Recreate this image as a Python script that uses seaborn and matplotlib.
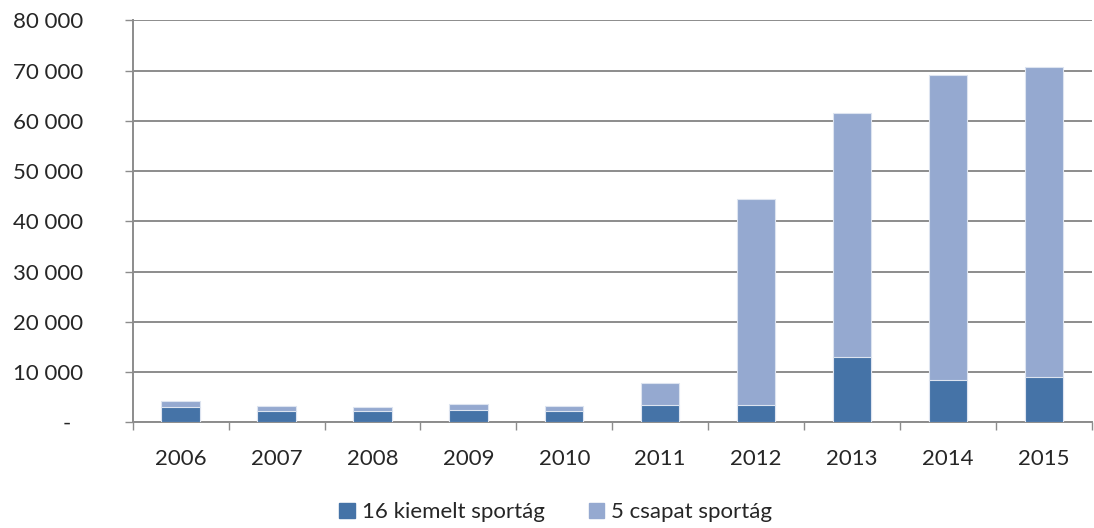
import numpy as np
import pandas as pd
import seaborn as sns
import matplotlib.pyplot as plt
from matplotlib.patches import Patch

years = ["2006", "2007", "2008", "2009", "2010", "2011", "2012", "2013", "2014", "2015"]
kiemelt = [3000, 2250, 2250, 2500, 2250, 3500, 3500, 13000, 8400, 9100]
csapat = [1300, 1050, 800, 1200, 1050, 4300, 40900, 48550, 60700, 61600]
series_names = ["16 kiemelt sportág", "5 csapat sportág"]
dark = "#4573a7"
light = "#95a9d0"
grid_col = "#8c8c8c"

df = pd.DataFrame({"year": years, "kiemelt": kiemelt, "csapat": csapat})
df["total"] = df["kiemelt"] + df["csapat"]

sns.set_style("white")
plt.rcParams["font.family"] = ["Lato", "DejaVu Sans"]

fig = plt.figure(figsize=(10.94, 5.28), dpi=100)
ax = fig.add_axes([0.1213, 0.2002, 0.8767, 0.7614])

sns.barplot(data=df, x="year", y="total", color=light, width=0.4,
            saturation=1, edgecolor="#dde4f0", linewidth=0.8, ax=ax, zorder=3)
sns.barplot(data=df, x="year", y="kiemelt", color=dark, width=0.4,
            saturation=1, edgecolor="#dde4f0", linewidth=0.8, ax=ax, zorder=4)

ax.set_xlim(-0.5, len(years) - 0.5)
ax.set_ylim(0, 80000)
yt = np.arange(0, 80001, 10000)
ax.set_yticks(yt)
ax.set_yticklabels(["-  "] + [f"{v // 1000} 000" for v in yt[1:]], fontsize=16)
ax.yaxis.grid(True, color=grid_col, linewidth=1.4, zorder=0)
ax.set_axisbelow(True)

ax.set_xticks(range(len(years)))
ax.set_xticklabels(years, fontsize=16)
ax.set_xticks(np.arange(-0.5, len(years)), minor=True)
ax.tick_params(axis="x", which="major", bottom=True, length=0, pad=19)
ax.tick_params(axis="x", which="minor", bottom=True, length=5.8, width=1.0, color=grid_col, direction="out")
ax.tick_params(axis="y", left=True, length=5.8, width=1.0, color=grid_col, pad=30, direction="out")
ax.set_xlabel("")
ax.set_ylabel("")

for s in ["top", "right"]:
    ax.spines[s].set_visible(False)
for s in ["left", "bottom"]:
    ax.spines[s].set_color(grid_col)
    ax.spines[s].set_linewidth(1.4)

handles = [Patch(color=dark, label=series_names[0]), Patch(color=light, label=series_names[1])]
fig.legend(handles=handles, loc="center", bbox_to_anchor=(0.508, 0.03), ncol=2, frameon=False,
           fontsize=16, handlelength=0.7, handleheight=0.7, handletextpad=0.3, columnspacing=2.0)

fig.savefig("out.png", dpi=100)
